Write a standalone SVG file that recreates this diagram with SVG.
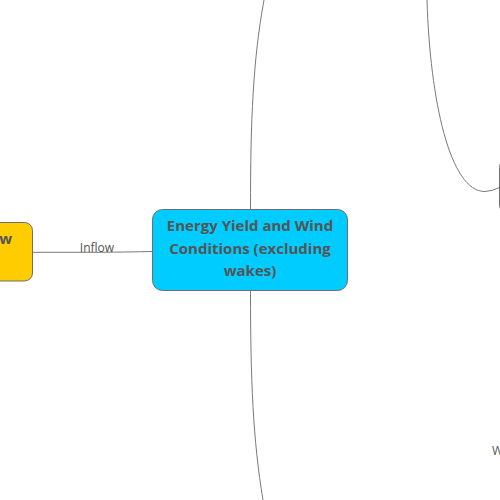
<svg xmlns="http://www.w3.org/2000/svg" width="500" height="500" viewBox="0 0 500 500">
<style>
.conn{fill:none;stroke:#7a7a7a;stroke-width:1}
.node{stroke:#6e6e6e;stroke-width:1}
.t{font-family:"Open Sans","Liberation Sans",sans-serif;font-weight:bold;font-size:15px;fill:#555555;text-anchor:middle}
.lbl{font-family:"Open Sans","Liberation Sans",sans-serif;font-size:12px;fill:#555555;text-anchor:middle}
</style>
<rect width="500" height="500" fill="#ffffff"/>
<g id="connectors">
<path class="conn" d="M250.5,209 C250.5,120 253,60 264,0"/>
<path class="conn" d="M250.5,291 C250.5,380 253,440 263,500"/>
<path class="conn" d="M427,0 C430,100 450,192 485,191.5 Q493,191 499.5,187.5"/>
<path class="conn" d="M33,252.3 L100,252.3 Q130,252 152.5,251.5"/>
<text class="lbl" x="97" y="252">Inflow</text>
<text class="lbl" x="492" y="455" style="text-anchor:start">W</text>
</g>
<g id="node-main">
<rect class="node" x="152.5" y="209.5" width="195" height="81" rx="10" fill="#00ccff"/>
<text class="t" x="250" y="231">Energy Yield and Wind</text>
<text class="t" x="250" y="253.5">Conditions (excluding</text>
<text class="t" x="250" y="276">wakes)</text>
</g>
<g id="node-left">
<rect class="node" x="-40" y="222.5" width="72.5" height="58.5" rx="8" fill="#ffcc00"/>
<text class="t" x="12" y="244" style="text-anchor:end">w</text>
</g>
<g id="node-right">
<rect class="node" x="499.5" y="159.5" width="60" height="53.5" rx="8" fill="#ffffff"/>
</g>
</svg>
